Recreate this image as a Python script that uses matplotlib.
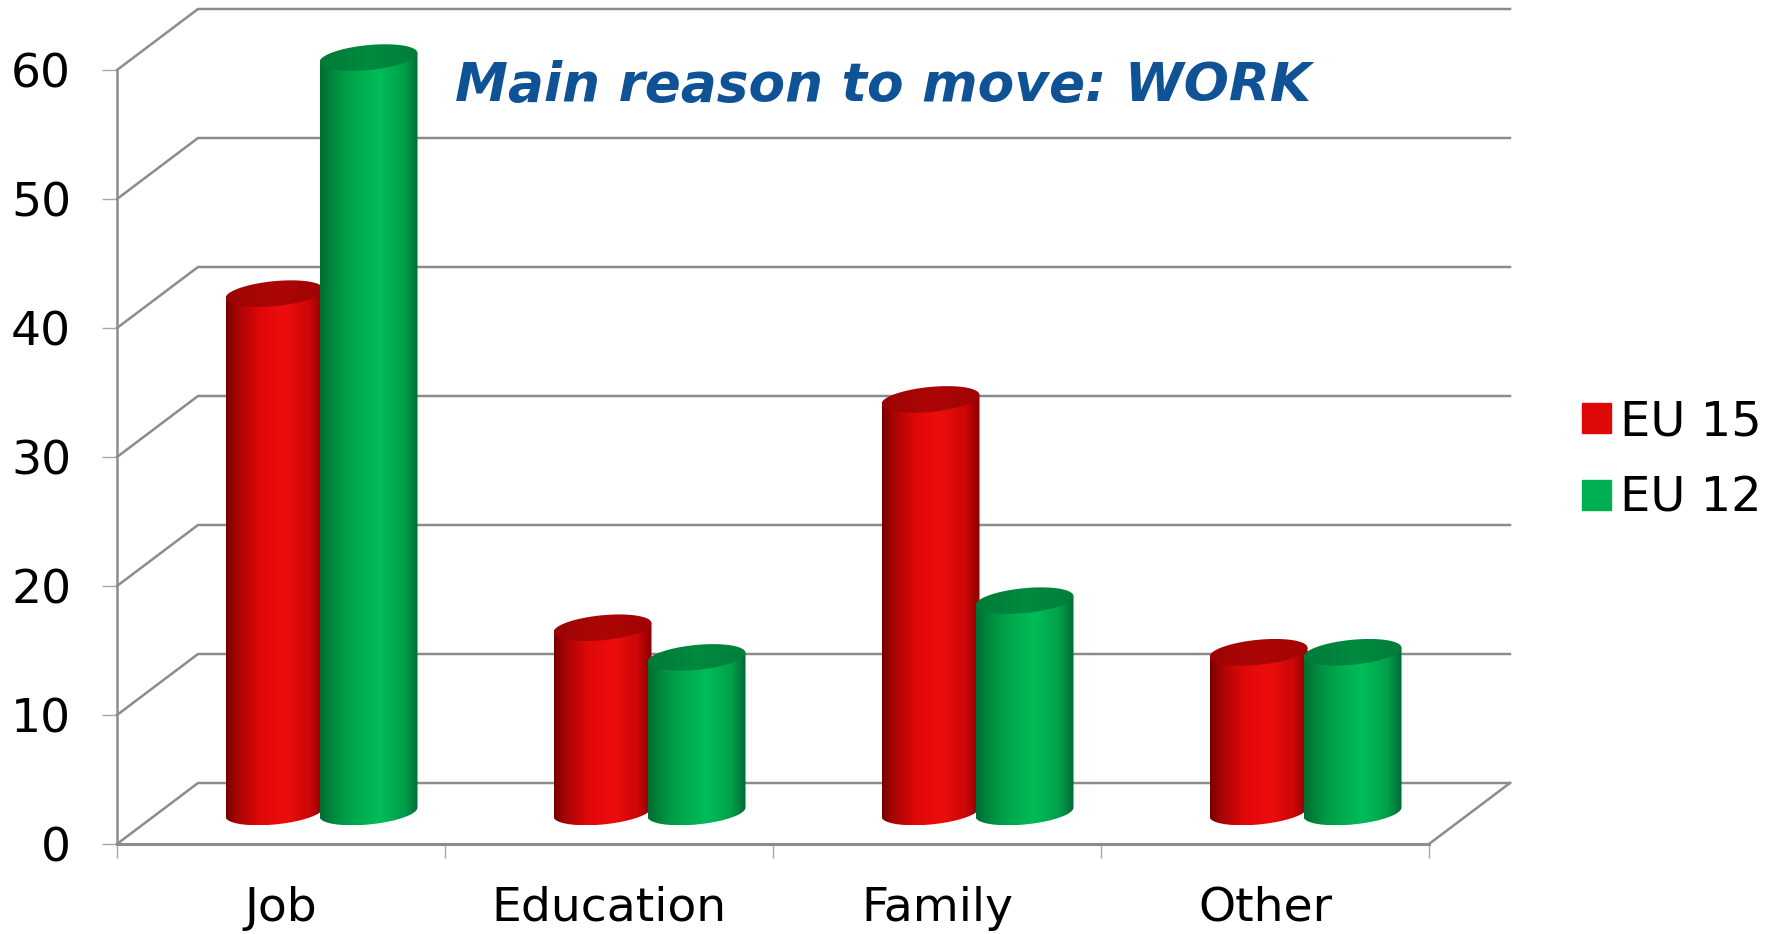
import numpy as np
import matplotlib
matplotlib.use('Agg')
import matplotlib.pyplot as plt
from matplotlib.colors import LinearSegmentedColormap
from matplotlib.patches import Polygon, Patch

# values
categories = ['Job', 'Education', 'Family', 'Other']
eu15 = [40.3, 14.4, 32.1, 12.5]
eu12 = [58.6, 12.1, 16.5, 12.5]
yticks = [0, 10, 20, 30, 40, 50, 60]

W, H = 1781, 934
left, right, bottom, top = 117, 1429, 844, 70
px_x = 4 / (right - left)      # one pixel in category units
px_y = 60 / (bottom - top)     # one pixel in value units
depth_x = 81 * px_x
depth_y = 61 * px_y
grid_col = '#8c8c8c'

red_body = LinearSegmentedColormap.from_list('r', [(0, '#780000'), (0.12, '#aa0404'), (0.35, '#e00808'),
                                                   (0.6, '#ee0d0d'), (0.85, '#cc0707'), (1, '#8c0000')])
green_body = LinearSegmentedColormap.from_list('g', [(0, '#006e33'), (0.2, '#009644'), (0.4, '#00ad50'),
                                                     (0.6, '#00bd58'), (0.85, '#00a04a'), (1, '#006a34')])
red_top = LinearSegmentedColormap.from_list('rt', ['#9c0404', '#ad0606', '#a00404'])
green_top = LinearSegmentedColormap.from_list('gt', ['#007a38', '#008a40', '#007f3a'])

fig = plt.figure(figsize=(W / 100, H / 100), dpi=100)
ax = fig.add_axes([left / W, 1 - bottom / H, (right - left) / W, (bottom - top) / H])
ax.patch.set_alpha(0)

# back wall and side lines
for v in yticks:
    ax.plot([0, depth_x, 4 + depth_x], [v, v + depth_y, v + depth_y], color=grid_col, lw=1.8,
            clip_on=False, zorder=1, solid_joinstyle='miter')
ax.plot([4, 4 + depth_x], [0, depth_y], color=grid_col, lw=1.8, clip_on=False, zorder=1)


def gradient_fill(path_xy, cmap, zorder):
    xs = [p[0] for p in path_xy]
    ys = [p[1] for p in path_xy]
    grad = np.linspace(0, 1, 256).reshape(1, -1)
    im = ax.imshow(grad, cmap=cmap, vmin=0, vmax=1, aspect='auto', interpolation='bilinear',
                   extent=[min(xs), max(xs), min(ys), max(ys)], zorder=zorder)
    clip = Polygon(path_xy, closed=True, transform=ax.transData, fill=False, lw=0)
    im.set_clip_box(fig.bbox)
    im.set_clip_path(clip)


def cylinder(cx, val, body, lid, zorder):
    a = 49 * px_x
    b = 12.5 * px_y
    k = 4.5 * px_y
    base = depth_y / 2 + 1.5 * px_y
    topv = val + depth_y / 2
    t = np.linspace(np.pi, 2 * np.pi, 60)
    low = [(cx + a * np.cos(i), base + b * np.sin(i) + k * np.cos(i)) for i in t]
    outline = [(cx - a, topv - k)] + low + [(cx + a, topv + k)]
    gradient_fill(outline, body, zorder)
    t = np.linspace(0, 2 * np.pi, 120)
    ell = [(cx + a * np.cos(i), topv + b * np.sin(i) + k * np.cos(i)) for i in t]
    gradient_fill(ell, lid, zorder + 0.1)


step = 94 * px_x
for i in range(len(categories)):
    c = i + 0.5 + depth_x / 2
    cylinder(c - step / 2, eu15[i], red_body, red_top, 3 + i)
    cylinder(c + step / 2, eu12[i], green_body, green_top, 3.5 + i)

ax.set_xlim(0, 4)
ax.set_ylim(0, 60)

for s in ['top', 'right']:
    ax.spines[s].set_visible(False)
ax.spines['left'].set_color(grid_col)
ax.spines['left'].set_linewidth(1.8)
ax.spines['bottom'].set_color(grid_col)
ax.spines['bottom'].set_linewidth(2.2)
ax.spines['left'].set_zorder(2)
ax.spines['bottom'].set_zorder(2)

ax.set_yticks(yticks)
ax.tick_params(axis='y', length=11, width=1, color='#a8a8a8', labelsize=34, pad=22)
ax.set_xticks(range(5))
ax.set_xticklabels([])
ax.tick_params(axis='x', which='major', length=10, width=1, color='#a8a8a8')
ax.set_xticks([i + 0.5 for i in range(4)], minor=True)
ax.set_xticklabels(categories, minor=True)
ax.tick_params(axis='x', which='minor', length=0, labelsize=34, pad=30)

fig.text(455 / W, 1 - 86 / H, 'Main reason to move: WORK', fontsize=38.3, fontweight='bold',
         fontstyle='italic', color='#0f5296', ha='left', va='center')

handles = [Patch(color='#de0808'), Patch(color='#00b050')]
fig.legend(handles, ['EU 15', 'EU 12'], loc='center left', bbox_to_anchor=(1539 / W, 1 - 460 / H),
           frameon=False, fontsize=34.5, handlelength=0.6, handleheight=0.57, handletextpad=0.2,
           labelspacing=0.62)

fig.savefig('out.png', dpi=100)
